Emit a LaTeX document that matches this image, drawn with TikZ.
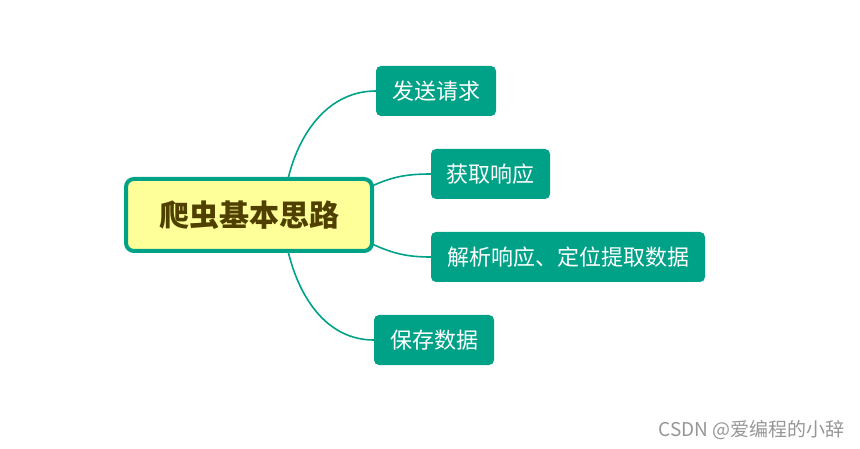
\documentclass[tikz,border=0pt]{standalone}
\usepackage{fontspec}
\setmainfont{Noto Sans CJK SC}
\newfontfamily\cjk{Noto Sans CJK SC}
\definecolor{teal1}{RGB}{0,162,135}
\definecolor{yel1}{RGB}{255,255,153}
\definecolor{olive1}{RGB}{80,64,0}
\definecolor{wm}{RGB}{150,150,150}
\begin{document}
\begin{tikzpicture}[x=1pt,y=-1pt,
  centerbox/.style={draw=teal1,line width=4pt,fill=yel1,rounded corners=8pt,
    minimum width=246pt,minimum height=72pt,inner sep=0pt,text=olive1,
    font=\cjk\bfseries\fontsize{30}{34}\selectfont},
  leaf/.style={fill=teal1,rounded corners=5pt,minimum height=50pt,inner sep=0pt,
    text=white,font=\cjk\fontsize{22}{26}\selectfont},
  link/.style={draw=teal1,line width=1.6pt}]
\useasboundingbox (0,0) rectangle (860,449);
\node[centerbox] (c) at (249,215) {爬虫基本思路};
\node[leaf,minimum width=120pt] (a) at (436,91) {发送请求};
\node[leaf,minimum width=119pt] (b) at (490.5,174) {获取响应};
\node[leaf,minimum width=274pt] (d) at (568,257) {解析响应、定位提取数据};
\node[leaf,minimum width=120pt] (e) at (434,340) {保存数据};
\coordinate (s1) at ([xshift=39pt,yshift=-2pt]c.north);
\coordinate (s2) at ([xshift=-2pt,yshift=-9pt]c.north east);
\coordinate (s3) at ([xshift=-2pt,yshift=9pt]c.south east);
\coordinate (s4) at ([xshift=39pt,yshift=2pt]c.south);
\draw[link] (s1) .. controls +(12,-50) and +(-45,0) .. (a.west);
\draw[link] (s2) .. controls +(20,-9) and +(-25,0) .. (b.west);
\draw[link] (s3) .. controls +(20,9) and +(-25,0) .. (d.west);
\draw[link] (s4) .. controls +(12,50) and +(-45,0) .. (e.west);
\node[text=wm,font=\cjk\fontsize{19}{22}\selectfont,anchor=east,inner sep=0pt] (w) at (845,430) {CSDN @爱编程的小辞};
\end{tikzpicture}
\end{document}
